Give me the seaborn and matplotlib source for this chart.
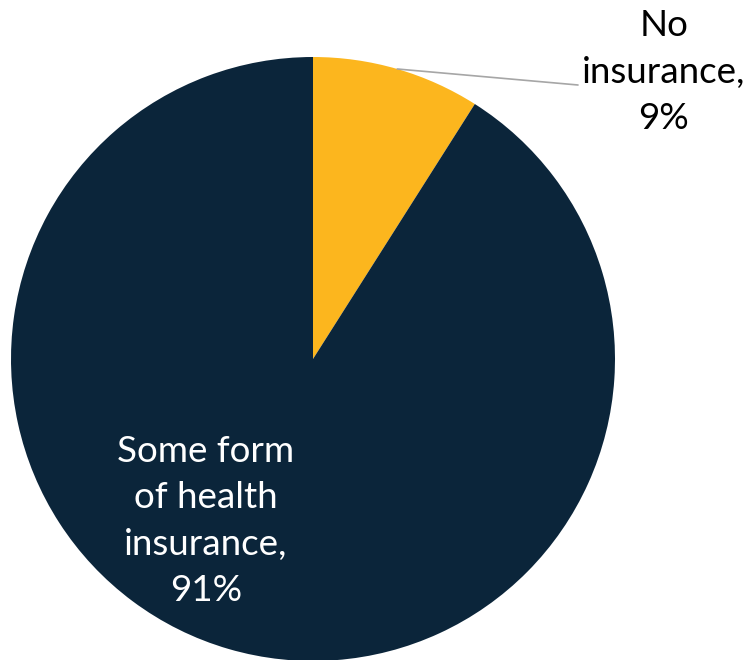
import numpy as np
import matplotlib
matplotlib.use("Agg")
import matplotlib.pyplot as plt
import seaborn as sns

# DATA
categories = ["No insurance", "Some form of health insurance"]
shares = [9, 91]
label_text = ["No\ninsurance,\n9%", "Some form\nof health\ninsurance,\n91%"]
slice_colors = ["#FCB61E", "#0B253A"]

sns.set_theme(style="white")
plt.rcParams["font.family"] = ["Lato", "DejaVu Sans"]

fig = plt.figure(figsize=(7.52, 6.60), dpi=100)
ax = fig.add_axes([0, 0, 1, 1])

# pie in pixel-like units: centre (313, 359 from top), radius 302
cx, cy, r = 313, 660 - 359, 302
wedges, _ = ax.pie(shares, colors=slice_colors, startangle=90, counterclock=False,
                   center=(cx, cy), radius=r, wedgeprops=dict(linewidth=0))
ax.set_xlim(0, 752)
ax.set_ylim(0, 660)
ax.set_aspect("equal")
ax.axis("off")

# leader line for the small slice
mid = np.deg2rad(90 - 360 * shares[0] / sum(shares) / 2)
px, py = cx + r * np.cos(mid), cy + r * np.sin(mid)
ax.plot([px, 578], [py, 660 - 85], color="#A6A6A6", linewidth=1.2)
ax.text(664, 660 - 72, label_text[0], ha="center", va="center", fontsize=26.5,
        color="black", linespacing=1.49)

# label inside the big slice
ax.text(206, 660 - 521, label_text[1], ha="center", va="center", fontsize=26.5,
        color="white", linespacing=1.49)

fig.savefig("out.png", dpi=100)
